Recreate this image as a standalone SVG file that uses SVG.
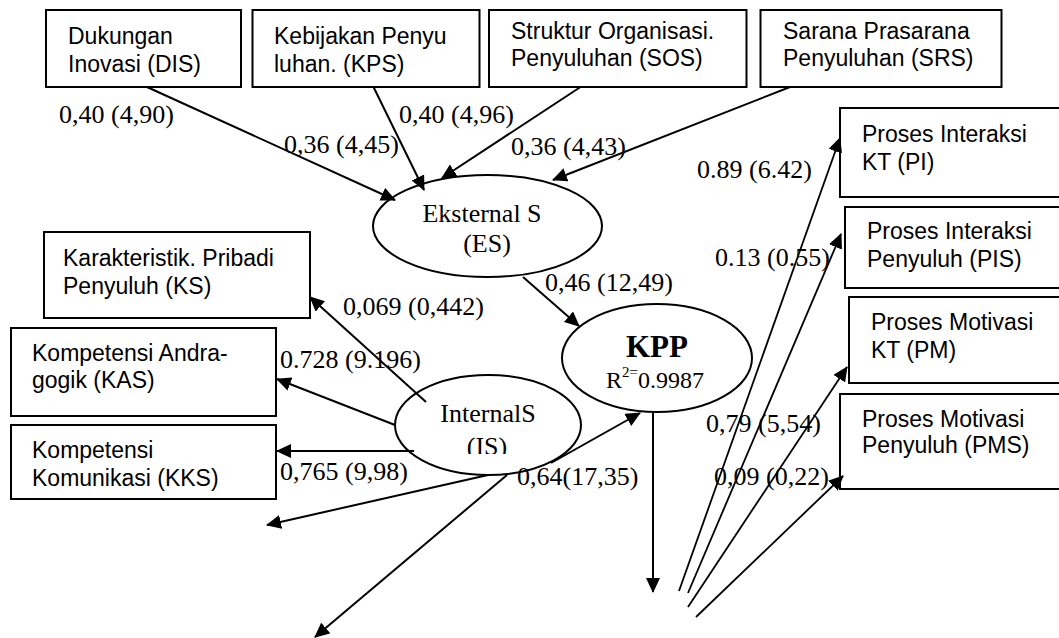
<svg xmlns="http://www.w3.org/2000/svg" width="1059" height="638" viewBox="0 0 1059 638">
<style>
.box{fill:#fff;stroke:#000;stroke-width:2}
.ell{fill:#fff;stroke:#000;stroke-width:2}
.a{font-family:"Liberation Sans",Arial,sans-serif;font-size:23px;fill:#000}
.t{font-family:"Liberation Serif","Times New Roman",serif;font-size:26px;fill:#000}
.c{text-anchor:middle}
.ln{stroke:#000;stroke-width:2;fill:none;marker-end:url(#ah)}
.ln2{stroke:#000;stroke-width:1.8;fill:none;marker-end:url(#ah)}
</style>
<defs>
<marker id="ah" markerUnits="userSpaceOnUse" viewBox="0 0 15 14" refX="14" refY="7" markerWidth="15" markerHeight="14" orient="auto">
<path d="M0,0 L15,7 L0,14 z" fill="#000"/>
</marker>
<clipPath id="clipIS"><rect x="420" y="380" width="140" height="74"/></clipPath>
</defs>
<rect width="1059" height="638" fill="#fff"/>

<g id="DIS"><rect class="box" x="46" y="10" width="195" height="77"/>
<text class="a" x="68" y="44">Dukungan</text><text class="a" x="68" y="72">Inovasi (DIS)</text></g>
<g id="KPS"><rect class="box" x="252.5" y="10" width="227" height="77"/>
<text class="a" x="274" y="44">Kebijakan Penyu</text><text class="a" x="274" y="72">luhan. (KPS)</text></g>
<g id="SOS"><rect class="box" x="489" y="10" width="257.5" height="77"/>
<text class="a" x="511" y="39">Struktur Organisasi.</text><text class="a" x="511" y="66">Penyuluhan (SOS)</text></g>
<g id="SRS"><rect class="box" x="760.5" y="10" width="241" height="77"/>
<text class="a" x="783" y="39">Sarana Prasarana</text><text class="a" x="783" y="66">Penyuluhan (SRS)</text></g>

<g id="PI"><rect class="box" x="840" y="108" width="230" height="89"/>
<text class="a" x="862" y="142">Proses Interaksi</text><text class="a" x="862" y="170">KT (PI)</text></g>
<g id="PIS"><rect class="box" x="845" y="207" width="225" height="81"/>
<text class="a" x="867" y="239">Proses Interaksi</text><text class="a" x="867" y="267">Penyuluh (PIS)</text></g>
<g id="PM"><rect class="box" x="849" y="297" width="221" height="86"/>
<text class="a" x="871" y="330">Proses Motivasi</text><text class="a" x="871" y="358">KT (PM)</text></g>
<g id="PMS"><rect class="box" x="840" y="394" width="230" height="95"/>
<text class="a" x="862" y="427">Proses Motivasi</text><text class="a" x="862" y="453">Penyuluh (PMS)</text></g>

<g id="KS"><rect class="box" x="44" y="232" width="266" height="86"/>
<text class="a" x="63" y="266">Karakteristik. Pribadi</text><text class="a" x="63" y="294">Penyuluh (KS)</text></g>
<g id="KAS"><rect class="box" x="11" y="328" width="265" height="88"/>
<text class="a" x="32" y="361">Kompetensi Andra-</text><text class="a" x="32" y="388">gogik (KAS)</text></g>
<g id="KKS"><rect class="box" x="11" y="425" width="265" height="74"/>
<text class="a" x="32" y="458">Kompetensi</text><text class="a" x="32" y="486">Komunikasi (KKS)</text></g>

<g id="ES"><ellipse class="ell" cx="487.5" cy="226" rx="114.5" ry="51"/>
<text class="t c" x="482" y="222">Eksternal S</text><text class="t c" x="487" y="252">(ES)</text></g>
<g id="KPP"><ellipse class="ell" cx="657" cy="358" rx="95" ry="54"/>
<text class="t c" x="657" y="357" style="font-weight:bold;font-size:31px">KPP</text>
<text class="t" x="606" y="388" style="font-size:24px">R<tspan dy="-11" style="font-size:15px">2=</tspan><tspan dy="11">0.9987</tspan></text></g>
<g id="IS"><ellipse class="ell" cx="488" cy="425" rx="93" ry="50"/>
<text class="t c" x="488" y="422">InternalS</text><text class="t c" x="487" y="455" clip-path="url(#clipIS)">(IS)</text></g>

<g id="connectors">
<path class="ln" d="M147,87 L395,200"/>
<path class="ln" d="M373.5,87 L424,190"/>
<path class="ln" d="M580.5,87 L442,178"/>
<path class="ln" d="M790,87 L553,180"/>
<path class="ln" d="M523,277 L579,326"/>
<path class="ln" d="M426,402 L310,297"/>
<path class="ln" d="M395,425 L277,379"/>
<path class="ln" d="M414,451 L277,451"/>
<path class="ln" d="M551,463 L640,413"/>
<path class="ln" d="M488,475 L267,525"/>
<path class="ln" d="M507,475 L315,637"/>
<path class="ln" d="M653,412 L653,592"/>
<path class="ln2" d="M679,591 L840,138"/>
<path class="ln2" d="M688,593 L841,234"/>
<path class="ln2" d="M688,607 L847,367"/>
<path class="ln2" d="M696,617 L843,476"/>
</g>

<g id="labels">
<text class="t" x="59" y="123">0,40 (4,90)</text>
<text class="t" x="284" y="153">0,36 (4,45)</text>
<text class="t" x="399" y="123">0,40 (4,96)</text>
<text class="t" x="511" y="155">0,36 (4,43)</text>
<text class="t" x="697" y="178">0.89 (6.42)</text>
<text class="t" x="715" y="266">0.13 (0.55)</text>
<text class="t" x="545" y="291">0,46 (12,49)</text>
<text class="t" x="343" y="315">0,069 (0,442)</text>
<text class="t" x="280" y="368">0.728 (9.196)</text>
<text class="t" x="280" y="480">0,765 (9,98)</text>
<text class="t" x="517" y="485">0,64(17,35)</text>
<text class="t" x="706" y="432">0,79 (5,54)</text>
<text class="t" x="714" y="485">0,09 (0,22)</text>
</g>
</svg>
